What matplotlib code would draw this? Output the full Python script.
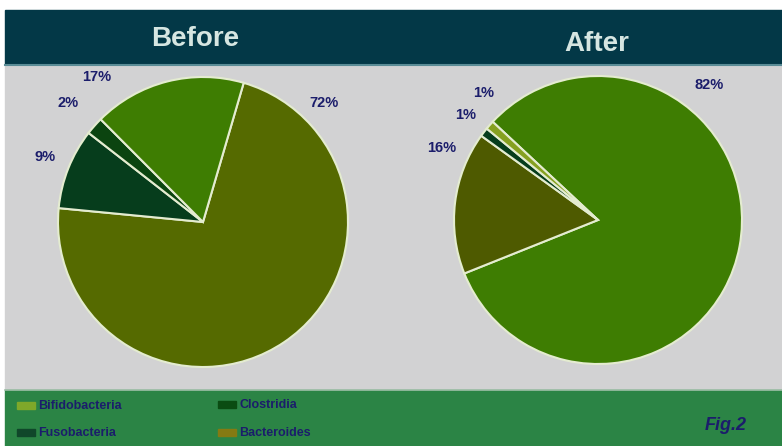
import matplotlib.pyplot as plt
from matplotlib.patches import Rectangle
import numpy as np

plt.rcParams['font.family'] = ['Liberation Sans', 'DejaVu Sans']

# data
titles = ["Before", "After"]
before_names = ["Bacteroides", "Fusobacteria", "Clostridia", "Bifidobacteria"]
before_vals = [72, 9, 2, 17]
after_names = ["Bifidobacteria", "Bacteroides", "Fusobacteria", "Clostridia"]
after_vals = [82, 16, 1, 1]
legend_names = ["Bifidobacteria", "Clostridia", "Fusobacteria", "Bacteroides"]

W, H = 782, 446
navy = "#1b1d6b"
cols_before = ["#556a00", "#063d1c", "#0b4410", "#3e7d02"]
cols_after = ["#3e7d02", "#4e5a00", "#063d1c", "#86a020"]
legend_cols = ["#7fa82a", "#0a4c12", "#10472a", "#857a12"]

fig = plt.figure(figsize=(W / 100, H / 100), dpi=100)
bg = fig.add_axes([0, 0, 1, 1])
bg.set_xlim(0, W)
bg.set_ylim(H, 0)
bg.axis("off")
bg.add_patch(Rectangle((0, 0), W, H, color="white"))
bg.add_patch(Rectangle((5, 64), W, 326, color="#d2d2d3"))
bg.add_patch(Rectangle((5, 10), W, 54, color="#033847"))
bg.plot([5, W], [64.5, 64.5], color="#5a8c96", lw=1.5)
bg.add_patch(Rectangle((5, 390), W, 56, color="#2b8445"))
bg.plot([5, W], [389.5, 389.5], color="#9fbfa8", lw=1.2)

bg.text(195, 39, titles[0], ha="center", va="center", fontsize=20,
        fontweight="bold", color="#d6e6e2")
bg.text(597, 44, titles[1], ha="center", va="center", fontsize=20,
        fontweight="bold", color="#d6e6e2")


def pie_at(cx, cy, r, vals, cols, start):
    ax = fig.add_axes([(cx - r) / W, (H - cy - r) / H, 2 * r / W, 2 * r / H])
    ax.pie(vals, colors=cols, startangle=start, counterclock=False,
           wedgeprops=dict(edgecolor="#e4ecd0", linewidth=1.5))
    ax.set_xlim(-1, 1)
    ax.set_ylim(-1, 1)
    ax.axis("off")


pie_at(203, 222, 145, before_vals, cols_before, 73.7)
pie_at(598, 220, 144, after_vals, cols_after, 137)

# percentage labels
before_pos = [(324, 103), (45, 157), (68, 103), (97, 77)]
after_pos = [(709, 85), (442, 148), (466, 115), (484, 93)]
for v, (x, y) in zip(before_vals, before_pos):
    bg.text(x, y, f"{v}%", ha="center", va="center", fontsize=10.5,
            fontweight="bold", color=navy)
for v, (x, y) in zip(after_vals, after_pos):
    bg.text(x, y, f"{v}%", ha="center", va="center", fontsize=10.5,
            fontweight="bold", color=navy)

# legend
leg_pos = [(17, 406), (218, 405), (17, 433), (218, 433)]
for name, c, (x, y) in zip(legend_names, legend_cols, leg_pos):
    bg.add_patch(Rectangle((x, y - 4), 18, 7, color=c))
    bg.text(x + 21, y, name, ha="left", va="center", fontsize=9,
            fontweight="bold", color=navy)

bg.text(726, 425, "Fig.2", ha="center", va="center", fontsize=13,
        fontweight="bold", fontstyle="italic", color=navy)

fig.savefig("out.png", dpi=100)
